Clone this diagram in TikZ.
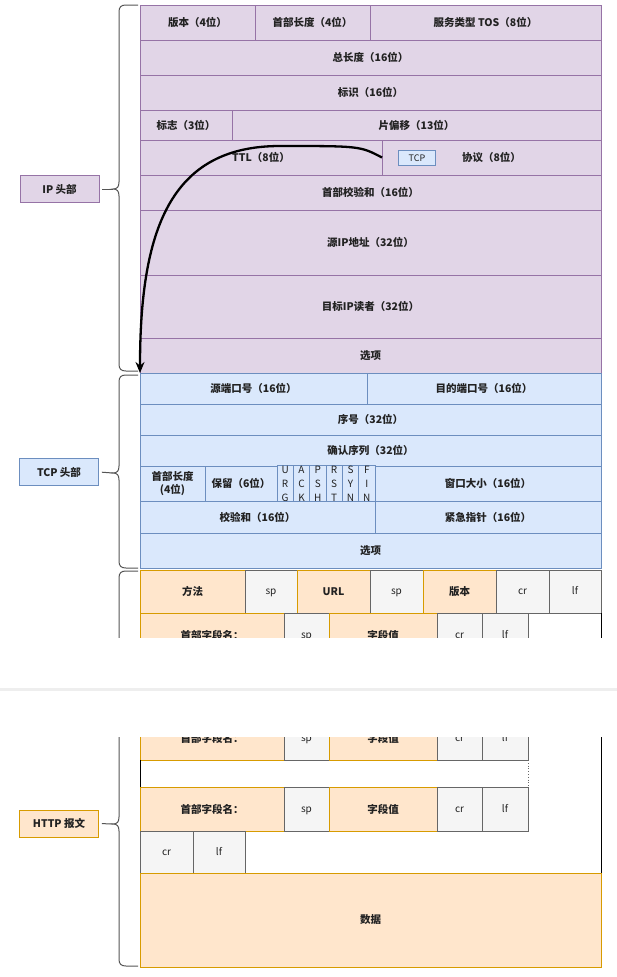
\documentclass[tikz,border=0pt]{standalone}
\usepackage{fontspec}
\setmainfont{Noto Sans CJK SC}
\usetikzlibrary{arrows.meta}
\definecolor{ipfill}{HTML}{E1D5E7}
\definecolor{ipdraw}{HTML}{9673A6}
\definecolor{tcpfill}{HTML}{DAE8FC}
\definecolor{tcpdraw}{HTML}{6C8EBF}
\definecolor{httpfill}{HTML}{FFE6CC}
\definecolor{httpdraw}{HTML}{D79B00}
\definecolor{grayfill}{HTML}{F5F5F5}
\definecolor{graydraw}{HTML}{666666}
\definecolor{txt}{HTML}{222222}
\definecolor{bandgray}{HTML}{EEEEEE}
\definecolor{bracecol}{HTML}{555555}
\newcommand\fld[7]{\node[cell,#6,minimum width={#4pt-#2pt},minimum height={#5pt-#3pt}] (#1) at ({(#2+#4)/2},{(#3+#5)/2}) {#7};}
\newcommand\mybrace[3]{\draw[bracestyle] (138,#1) -- (126,#1) .. controls (121,#1) and (119,#1+2) .. (119,#1+7) -- (119,#2-7) .. controls (119,#2-2) and (117,#2) .. (113,#2) .. controls (117,#2) and (119,#2+2) .. (119,#2+7) -- (119,#3-7) .. controls (119,#3-2) and (121,#3) .. (126,#3) -- (138,#3);}
\tikzset{
  cell/.style={draw, line width=0.8pt, inner sep=0pt, outer sep=0pt, align=center, text=txt, font=\fontsize{10.5}{13}\selectfont\bfseries},
  ipc/.style={fill=ipfill, draw=ipdraw},
  tcpc/.style={fill=tcpfill, draw=tcpdraw},
  httpc/.style={fill=httpfill, draw=httpdraw},
  grayc/.style={fill=grayfill, draw=graydraw, font=\fontsize{10}{12}\selectfont, text=txt, text height=8pt, text depth=2pt},
  flagc/.style={tcpc, font=\fontsize{10}{14}\selectfont},
  labelbox/.style={draw, line width=0.8pt, inner sep=0pt, minimum width=79pt, minimum height=27pt, text=txt, font=\fontsize{10.5}{13}\selectfont\bfseries},
  bracestyle/.style={draw=bracecol, line width=1pt},
  tick/.style={draw=bracecol, line width=1pt, shorten <=3pt},
  arrowline/.style={draw=black, line width=2.3pt, -{Stealth[length=11pt,width=9pt]}}
}
\begin{document}
\begin{tikzpicture}[x=1pt,y=-1pt]
\useasboundingbox[fill=white] (0,0) rectangle (617,977);
% ---------- IP header ----------
\fld{ver}{140}{5}{255}{40}{ipc}{版本（4位）}
\fld{ihl}{255}{5}{370}{40}{ipc}{首部长度（4位）}
\fld{tos}{370}{5}{601}{40}{ipc}{服务类型 TOS（8位）}
\fld{tlen}{140}{40}{601}{75}{ipc}{总长度（16位）}
\fld{ident}{140}{75}{601}{110}{ipc}{标识（16位）}
\fld{flags}{140}{110}{232}{140}{ipc}{标志（3位）}
\fld{frag}{232}{110}{601}{140}{ipc}{片偏移（13位）}
\fld{ttl}{140}{140}{382}{175}{ipc}{TTL（8位）}
\fld{proto}{382}{140}{601}{175}{ipc}{协议（8位）}
\node[cell, tcpc, minimum width=37pt, minimum height=15pt, font=\fontsize{9}{10}\selectfont] (tcpbox) at (417,158) {TCP};
\fld{cks}{140}{175}{601}{210}{ipc}{首部校验和（16位）}
\fld{srcip}{140}{210}{601}{275}{ipc}{源IP地址（32位）}
\fld{dstip}{140}{275}{601}{338}{ipc}{目标IP读者（32位）}
\fld{ipopt}{140}{338}{601}{373}{ipc}{选项}
% ---------- TCP header ----------
\fld{sport}{140}{373}{367}{404}{tcpc}{源端口号（16位）}
\fld{dport}{367}{373}{601}{404}{tcpc}{目的端口号（16位）}
\fld{seq}{140}{404}{601}{435}{tcpc}{序号（32位）}
\fld{ackn}{140}{435}{601}{466}{tcpc}{确认序列（32位）}
\fld{thl}{140}{466}{205}{501}{tcpc}{首部长度\\(4位)}
\fld{rsv}{205}{466}{277}{501}{tcpc}{保留（6位）}
\fld{furg}{277}{466}{293.3}{501}{flagc}{U\\R\\G}
\fld{fack}{293.3}{466}{309.7}{501}{flagc}{A\\C\\K}
\fld{fpsh}{309.7}{466}{326}{501}{flagc}{P\\S\\H}
\fld{frst}{326}{466}{342.3}{501}{flagc}{R\\S\\T}
\fld{fsyn}{342.3}{466}{358.7}{501}{flagc}{S\\Y\\N}
\fld{ffin}{358.7}{466}{375}{501}{flagc}{F\\I\\N}
\fld{win}{375}{466}{601}{501}{tcpc}{窗口大小（16位）}
\fld{tcks}{140}{501}{375}{533}{tcpc}{校验和（16位）}
\fld{urgp}{375}{501}{601}{533}{tcpc}{紧急指针（16位）}
\fld{tcpopt}{140}{533}{601}{568}{tcpc}{选项}
% ---------- HTTP message ----------
\fld{meth}{140}{570}{245}{613}{httpc}{方法}
\fld{spa}{245}{570}{297}{613}{grayc}{sp}
\fld{url}{297}{570}{370}{613}{httpc}{URL}
\fld{spb}{370}{570}{423}{613}{grayc}{sp}
\fld{hver}{423}{570}{496}{613}{httpc}{版本}
\fld{cra}{496}{570}{549}{613}{grayc}{cr}
\fld{lfa}{549}{570}{601}{613}{grayc}{lf}
\fld{hna}{140}{613}{284}{657}{httpc}{首部字段名：}
\fld{spc}{284}{613}{329}{657}{grayc}{sp}
\fld{hva}{329}{613}{437}{657}{httpc}{字段值}
\fld{crb}{437}{613}{482}{657}{grayc}{cr}
\fld{lfb}{482}{613}{528}{657}{grayc}{lf}
\fld{hnb}{140}{716}{284}{760}{httpc}{首部字段名：}
\fld{spd}{284}{716}{329}{760}{grayc}{sp}
\fld{hvb}{329}{716}{437}{760}{httpc}{字段值}
\fld{crc}{437}{716}{482}{760}{grayc}{cr}
\fld{lfc}{482}{716}{528}{760}{grayc}{lf}
\fld{hnc}{140}{787}{284}{831}{httpc}{首部字段名：}
\fld{spe}{284}{787}{329}{831}{grayc}{sp}
\fld{hvc}{329}{787}{437}{831}{httpc}{字段值}
\fld{crd}{437}{787}{482}{831}{grayc}{cr}
\fld{lfd}{482}{787}{528}{831}{grayc}{lf}
\fld{cre}{140}{831}{193}{873}{grayc}{cr}
\fld{lfe}{193}{831}{245}{873}{grayc}{lf}
\fld{data}{140}{873}{601}{967}{httpc}{数据}
\draw[black, line width=1pt] (601,613) -- (601,873);
\draw[black, line width=1pt] (140,760) -- (140,787);
\draw[graydraw, line width=0.8pt, dotted] (528,760) -- (528,787);
% ---------- braces and labels ----------
\mybrace{5}{189}{371}
\mybrace{375}{473}{568}
\mybrace{571}{824}{966}
\node[labelbox, fill=ipfill, draw=ipdraw] (iplab) at (59.5,189) {IP 头部};
\node[labelbox, fill=tcpfill, draw=tcpdraw] (tcplab) at (59,472) {TCP 头部};
\node[labelbox, fill=httpfill, draw=httpdraw] (httplab) at (59,823.5) {HTTP 报文};
\coordinate (iptip) at (113,189);
\coordinate (tcptip) at (113,473);
\coordinate (httptip) at (113,824);
\draw[tick] (iplab.east) -- (iptip);
\draw[tick] (tcplab.east) -- (tcptip);
\draw[tick] (httplab.east) -- (httptip);
% ---------- page break gap ----------
\fill[white] (0,638) rectangle (617,737);
\fill[bandgray] (0,688) rectangle (617,691);
% ---------- arrow ----------
\draw[arrowline] (proto.west) .. controls (360,146) .. (280,146) .. controls (170,146) and (140,230) .. (sport.north west);
\end{tikzpicture}
\end{document}
